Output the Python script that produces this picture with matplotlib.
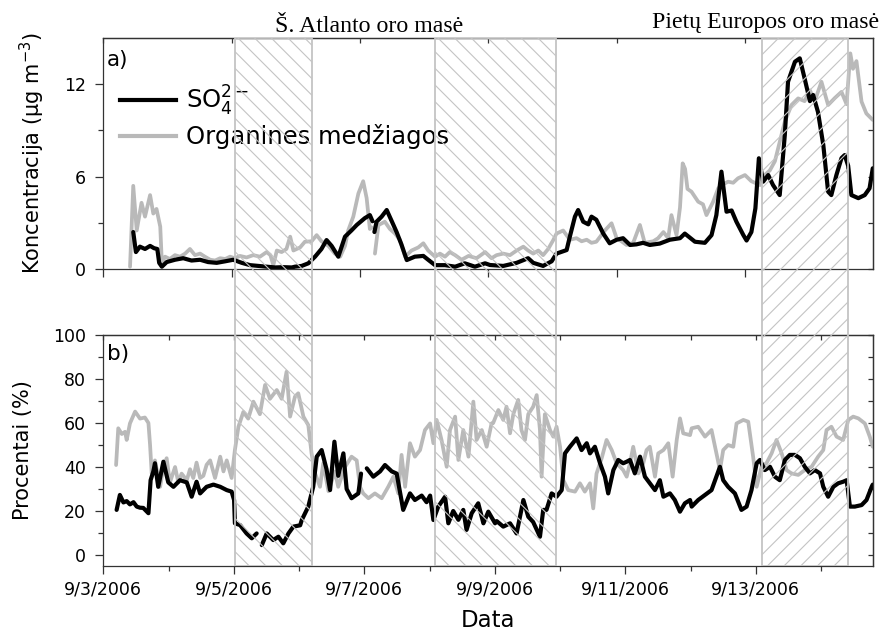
import numpy as np
import matplotlib
matplotlib.use("Agg")
import matplotlib.pyplot as plt
import matplotlib.dates as mdates
from matplotlib.lines import Line2D
from matplotlib.ticker import FixedLocator, NullFormatter, FuncFormatter

plt.rcParams['font.family'] = ['DejaVu Sans']
plt.rcParams['mathtext.default'] = 'regular'
plt.rcParams['hatch.linewidth'] = 0.8

START = np.datetime64('2006-09-03T00:00')
nan = np.nan

# ---- a) concentrations, hours since 2006-09-03 00:00 ----
so4_conc_h = [11.2, 12.2, 13.7, 15.6, 17.5, 19.0, 20.2, 20.9, 21.9, 23.7,
              26.8, 29.9, 33.0, 36.2, 39.2, 42.4, 45.6, 48.6, 51.8, 54.9,
              58.0, 61.1, 64.3, 67.3, 70.5, 71.7, 74.2, 76.7, 79.2, 81.6,
              83.5, 85.4, 87.9, 90.4, 92.8, 94.8, 97.8, 99.7, 100.7, 101.0,
              101.4, 102.2, 104.1, 106.0, 107.9, 109.7, 111.5, 113.5, 116.5, 119.7,
              121.5, 124.1, 127.8, 131.6, 135.2, 139.0, 142.8, 144.6, 149.6, 154.6,
              158.9, 160.8, 164.5, 167.7, 169.5, 173.3, 174.5, 176.4, 177.6, 179.5,
              181.4, 182.6, 184.4, 187.0, 189.4, 192.0, 194.4, 197.0, 199.4, 201.9,
              204.4, 208.1, 211.9, 215.7, 217.5, 221.3, 225.0, 227.5, 229.3, 231.2,
              233.1, 235.0, 236.8, 239.4, 240.6, 242.4, 243.9, 245.2, 246.8, 248.7,
              250.5, 253.0, 254.9, 256.1, 258.7, 260.5, 262.3, 264.3, 265.5, 267.3,
              269.3, 271.1, 272.3, 274.2, 276.1, 277.3, 278.6, 279.8, 282.4, 284.8,
              286.6, 287.8]
so4_conc = [2.4, 1.1, 1.45, 1.3, 1.5, 1.35, 1.3, 0.4, 0.15, 0.45,
            0.6, 0.7, 0.55, 0.6, 0.45, 0.4, 0.5, 0.6, 0.4, 0.25,
            0.2, 0.15, 0.1, 0.12, 0.1, 0.15, 0.2, 0.37, 0.8, 1.3,
            1.88, 1.5, 0.8, 2.1, 2.5, 2.86, 3.3, 3.5, 3.1, nan,
            2.4, 3.07, 3.4, 3.83, 3.1, 2.4, 1.6, 0.58, 0.8, 0.85,
            0.6, 0.25, 0.25, 0.15, 0.37, 0.15, 0.37, 0.26, 0.2, 0.4,
            0.7, 0.4, 0.2, 0.5, 1.0, 1.23, 2.1, 3.4, 3.83, 3.07,
            2.9, 3.4, 3.2, 2.3, 1.67, 1.9, 2.0, 1.56, 1.6, 1.7,
            1.56, 1.65, 1.9, 2.0, 2.3, 1.77, 1.7, 2.2, 3.5, 6.32,
            3.72, 3.8, 3.07, 2.2, 1.85, 2.4, 3.94, 7.19, 5.67, 6.1,
            5.45, 4.8, 8.7, 12.16, 13.46, 13.68, 12.38, 10.9, 11.3, 10.2,
            8.05, 5.02, 4.8, 6.1, 7.2, 7.4, 6.7, 4.8, 4.6, 4.8,
            5.24, 6.54]

org_conc_h = [10.0, 11.2, 12.5, 14.3, 15.6, 17.5, 18.7, 19.9, 21.3, 21.9,
              23.1, 24.9, 26.8, 28.7, 30.6, 32.4, 34.3, 36.2, 38.0, 40.0,
              41.8, 43.7, 45.6, 47.4, 49.2, 51.1, 53.6, 56.1, 58.6, 61.1,
              62.5, 63.6, 64.9, 66.7, 68.5, 69.9, 71.1, 73.6, 75.4, 77.9,
              79.8, 81.6, 84.2, 86.6, 88.6, 90.4, 91.6, 93.5, 95.4, 97.2,
              98.5, 99.7, 100.4, 101.0, 101.6, 102.9, 105.3, 107.2, 109.1, 110.9,
              112.9, 115.3, 117.8, 119.7, 121.5, 124.1, 125.9, 127.8, 129.6, 131.6,
              134.0, 136.6, 139.6, 142.8, 145.2, 147.1, 149.6, 152.1, 154.6, 157.1,
              158.9, 160.8, 162.7, 164.5, 166.4, 168.3, 169.5, 172.0, 174.5, 177.0,
              178.9, 180.8, 182.6, 184.4, 187.6, 190.1, 192.0, 193.8, 195.7, 198.2,
              200.7, 202.5, 205.7, 207.5, 209.5, 211.3, 212.5, 214.4, 215.7, 216.7,
              217.6, 218.5, 220.0, 222.5, 224.3, 225.6, 228.1, 230.0, 231.8, 233.7,
              235.6, 237.4, 240.0, 242.4, 245.6, 247.4, 249.3, 251.2, 252.4, 254.9,
              257.4, 259.9, 262.3, 264.3, 266.1, 268.6, 271.1, 273.6, 276.1, 278.0,
              279.4, 280.4, 281.7, 283.6, 285.4, 287.8]
org_conc = [0.15, 5.4, 2.5, 4.3, 3.4, 4.8, 3.6, 3.9, 2.75, 0.4,
            0.8, 0.65, 0.9, 0.8, 1.0, 1.3, 0.9, 1.0, 0.8, 0.6,
            0.55, 0.7, 0.65, 0.8, 0.7, 0.85, 0.75, 0.9, 0.8, 1.1,
            0.9, 0.25, 1.2, 1.1, 1.3, 2.1, 1.2, 1.4, 1.77, 1.8,
            2.2, 1.8, 1.5, 1.0, 0.8, 1.5, 2.5, 3.4, 4.9, 5.7,
            4.6, 2.6, 2.7, nan, 1.0, 2.85, 3.07, 2.6, 2.3, 1.9,
            0.8, 1.2, 1.4, 1.67, 1.2, 0.8, 1.0, 0.8, 1.1, 0.9,
            0.6, 0.85, 0.7, 1.1, 0.7, 0.9, 1.0, 0.9, 1.2, 1.45,
            1.2, 1.0, 1.2, 0.9, 1.3, 1.88, 2.3, 2.5, 1.9, 2.0,
            1.8, 1.9, 1.7, 1.77, 2.5, 2.97, 2.0, 1.8, 1.56, 1.7,
            2.86, 1.7, 1.8, 2.0, 2.4, 2.0, 3.5, 2.2, 4.0, 6.86,
            6.5, 5.2, 5.02, 4.37, 4.2, 3.5, 4.37, 5.24, 5.5, 5.67,
            5.6, 5.89, 6.1, 5.7, 5.45, 6.1, 6.4, 7.0, 7.84, 9.57,
            10.65, 11.08, 10.9, 11.6, 10.9, 12.16, 10.65, 11.1, 11.5, 10.7,
            14.0, 13.0, 13.5, 10.87, 10.1, 9.68]

# ---- b) shares of PM, hours since 2006-09-03 00:00 ----
org_pct_h = [4.7, 5.5, 6.8, 8.0, 8.6, 9.8, 11.7, 13.5, 15.3, 16.6,
             17.2, 17.8, 19.0, 20.9, 22.1, 23.3, 24.5, 26.4, 27.6, 28.8,
             30.7, 31.9, 33.1, 34.3, 35.6, 36.8, 38.0, 39.3, 41.1, 43.0,
             44.2, 45.4, 47.2, 48.4, 49.7, 51.5, 53.3, 55.2, 57.6, 59.5,
             61.3, 63.8, 65.6, 67.4, 68.7, 70.5, 71.7, 73.6, 75.4, 76.6,
             77.9, 79.7, 80.9, 82.8, 85.2, 86.4, 88.9, 91.3, 93.2, 94.4,
             95.6, 97.5, 99.9, 102.4, 104.8, 106.7, 108.5, 109.7, 111.0, 112.8,
             114.6, 116.5, 118.3, 120.2, 121.4, 122.6, 124.4, 126.3, 127.5, 129.4,
             130.6, 132.4, 134.3, 136.1, 137.3, 139.2, 141.0, 142.8, 143.4, 145.3,
             147.1, 148.3, 149.6, 150.8, 152.6, 153.8, 155.1, 156.3, 158.1, 159.4,
             160.6, 161.2, 162.4, 164.3, 165.5, 166.7, 168.0, 169.2, 171.0, 173.5,
             175.3, 177.1, 179.0, 180.2, 181.4, 183.3, 185.1, 187.0, 188.8, 191.2,
             192.5, 193.7, 194.9, 196.8, 198.6, 199.8, 201.0, 202.9, 204.1, 206.0,
             207.8, 209.4, 210.9, 212.1, 213.3, 215.8, 216.4, 218.8, 221.3, 223.7,
             225.5, 226.8, 228.0, 229.8, 231.7, 232.9, 235.4, 237.2, 239.0, 240.3,
             242.1, 243.9, 245.8, 247.6, 249.5, 251.3, 253.1, 255.6, 258.0, 260.5,
             262.9, 264.8, 266.0, 267.8, 269.7, 272.1, 274.0, 275.8, 277.7, 280.1,
             281.9, 283.0]
org_pct = [40.9, 57.6, 55, 56, 52.3, 59.8, 65.2, 62, 62.5, 60,
           50, 37.1, 43, 31, 40, 44, 33, 40, 33, 37,
           34, 39, 35, 42, 35, 36, 41, 43, 35, 44.7,
           38, 43, 35, 47.7, 58.3, 65, 62, 69.7, 64, 77.3,
           71, 75, 71, 83.3, 62.9, 72, 73.5, 62.9, 59, 46.2,
           37.1, 31, 41.7, 29, 38, 31, 40, 44.7, 43, 31,
           28, 25.8, 28, 25.8, 31, 35.6, 28, 45.5, 31, 50.8,
           44.7, 47.7, 56.8, 59.8, 50.8, 61.4, 52.3, 40.1, 56.8, 62.9,
           43.2, 56.8, 44.7, 69.7, 52.3, 56.8, 49.2, 59.8, 60, 65.9,
           61.4, 67.4, 55.3, 64, 70.5, 56.8, 52.3, 64, 67.4, 72.7,
           56.8, 35.6, 64, 56.8, 53.8, 58.3, 49.2, 34, 29.5, 28.8,
           32.6, 28.8, 32.6, 21.2, 37, 44, 52.3, 47.7, 41.7, 38.6,
           35.6, 41.7, 49.2, 37.1, 41.7, 47.7, 49.2, 35.6, 46.2, 47.7,
           50.8, 35.6, 52.3, 62.1, 55.3, 54.5, 57.6, 58.3, 53.8, 56.8,
           46.2, 38.6, 47.7, 50, 49.2, 59.8, 61.4, 60.6, 44.7, 31,
           40.1, 41.7, 46.2, 52.3, 46.2, 38.6, 37.1, 36.4, 38.6, 40.1,
           44.7, 47.7, 56.8, 58.3, 53.8, 52.3, 61.4, 62.9, 62.1, 59.8,
           53.8, 49.2]

so4_pct_h = [4.9, 6.1, 7.4, 8.6, 9.8, 11.1, 12.3, 13.5, 14.7, 16.6,
             17.4, 18.4, 19.0, 20.2, 22.1, 23.9, 25.8, 28.2, 30.7, 32.5,
             34.3, 35.6, 38.0, 40.5, 43.0, 45.4, 47.2, 48.1, 48.4, 50.3,
             52.7, 54.6, 56.4, 57.3, 58.3, 60.1, 62.5, 64.4, 66.2, 68.1,
             69.9, 72.4, 73.0, 75.4, 77.2, 78.5, 80.3, 82.1, 83.4, 85.0,
             86.4, 88.3, 89.5, 91.3, 93.8, 94.8, 95.8, 96.9, 99.3, 101.8,
             103.6, 106.1, 107.9, 110.3, 112.8, 114.6, 117.1, 118.9, 120.2, 121.4,
             123.2, 125.7, 126.9, 128.7, 130.6, 132.4, 133.6, 135.5, 137.9, 139.8,
             141.6, 144.1, 144.7, 147.1, 149.6, 152.0, 154.5, 156.3, 158.1, 160.6,
             161.8, 163.0, 164.9, 166.7, 168.6, 169.8, 171.6, 174.1, 175.9, 177.8,
             179.0, 180.8, 182.7, 184.5, 185.7, 187.6, 189.4, 191.2, 192.5, 193.7,
             195.5, 197.4, 199.2, 201.0, 202.9, 204.7, 206.0, 208.4, 210.2, 212.1,
             213.9, 215.8, 216.4, 218.8, 221.3, 223.7, 225.5, 226.8, 228.0, 229.8,
             232.3, 234.7, 236.6, 238.4, 240.3, 241.5, 243.3, 245.2, 247.0, 248.8,
             250.7, 252.5, 254.4, 256.2, 258.0, 259.9, 261.7, 263.6, 264.8, 266.6,
             268.5, 270.3, 272.1, 273.4, 274.6, 276.4, 278.9, 280.7, 282.6, 283.0]
so4_pct = [20.5, 27.3, 23.9, 24.5, 23, 24, 22, 21.5, 21.4, 19,
           34, 38, 41.7, 31, 42.4, 33, 31, 34, 33, 26.5,
           33.3, 28, 31, 32, 31, 29.5, 28.8, 25, 14.4, 13.6,
           9.8, 7.6, 9.8, nan, 4.5, 9.8, 6.8, 8.3, 5.3, 9.8,
           12.9, 13.5, 15.9, 22, 31, 44.7, 47.7, 39, 29.5, 51.5,
           36, 46.2, 30, 25.8, 28, 37, nan, 39.4, 35.6, 38,
           40.9, 38, 37, 20.5, 28, 25, 27, 24, 27, 15.9,
           22, 26.5, 14.4, 20, 16, 20.5, 11.4, 19, 23.5, 14.4,
           19.7, 14.4, 15.4, 12.9, 14.4, 9.8, 25, 17.4, 15, 8.3,
           20.5, 20.5, 28, 26.5, 29.5, 46.2, 49.2, 53, 47.7, 50.8,
           46.2, 49.2, 41.7, 35.6, 28, 38.6, 43.2, 41.7, 42.4, 43.2,
           37.1, 44.7, 35.6, 32.6, 29.5, 34, 26.5, 28, 25, 19.7,
           23.5, 25, 22, 25, 27.3, 29.5, 35.6, 40.1, 34, 31,
           28, 20.5, 22, 29.5, 41.7, 43.2, 38.6, 40.1, 35.6, 34,
           43.2, 45.5, 45.5, 44, 40.1, 37.1, 38.6, 37.1, 31, 26.5,
           31, 32.6, 33.3, 34, 22, 22, 22.7, 25, 31, 32]

# air-mass episodes (start hour, end hour, hatch)
episodes = [(48.4, 76.9, '\\\\'), (122.0, 166.4, '\\\\'), (242.4, 274.0, '//')]
episode_labels = ['Š. Atlanto oro masė', 'Pietų Europos oro masė']

legend_labels = ['SO$_4^{2-}$', 'Organines medžiagos']
tick_dates = ['2006-09-03', '2006-09-05', '2006-09-07', '2006-09-09',
              '2006-09-11', '2006-09-13']


def to_num(hours):
    h = np.asarray(hours, dtype=float)
    return mdates.date2num(START + np.round(h * 60).astype('timedelta64[m]'))


BLACK = '#000000'
GRAY = '#b9b9b9'
SPINE = '#333333'
HATCH = '#c4c4c4'

fig = plt.figure(figsize=(8.83, 6.34), dpi=100)
W_PX, H_PX = 883.0, 634.0
L = 103.3 / W_PX
W = 770.0 / W_PX
ax1 = fig.add_axes([L, (H_PX - 269) / H_PX, W, 231 / H_PX])
ax2 = fig.add_axes([L, (H_PX - 566) / H_PX, W, 231 / H_PX])

major_x = mdates.date2num(np.array(tick_dates, dtype='datetime64[m]'))
day_x = mdates.date2num(np.arange(np.datetime64('2006-09-03'),
                                  np.datetime64('2006-09-16'),
                                  np.timedelta64(1, 'D')).astype('datetime64[m]'))
minor_x = [d for d in day_x if d not in major_x]

# panel a
ax1.plot(to_num(org_conc_h), org_conc, color=GRAY, lw=2.7,
         solid_joinstyle='round', solid_capstyle='round')
ax1.plot(to_num(so4_conc_h), so4_conc, color=BLACK, lw=3.0,
         solid_joinstyle='round', solid_capstyle='round')
ax1.set_xlim(to_num(0), to_num(288))
ax1.set_ylim(0, 15)
ax1.set_yticks([0, 6, 12])
ax1.yaxis.set_minor_locator(FixedLocator([3, 9]))
ax1.set_xticks(major_x)
ax1.xaxis.set_major_formatter(NullFormatter())

# panel b
ax2.plot(to_num(org_pct_h), org_pct, color=GRAY, lw=2.7,
         solid_joinstyle='round', solid_capstyle='round')
ax2.plot(to_num(so4_pct_h), so4_pct, color=BLACK, lw=3.0,
         solid_joinstyle='round', solid_capstyle='round')
ax2.set_xlim(to_num(0), to_num(283.2))
ax2.set_ylim(-5, 100)
ax2.set_yticks([0, 20, 40, 60, 80, 100])
ax2.yaxis.set_minor_locator(FixedLocator([10, 30, 50, 70, 90]))
ax2.set_xticks(major_x)
ax2.xaxis.set_minor_locator(FixedLocator(minor_x))
ax2.xaxis.set_major_formatter(FuncFormatter(
    lambda v, p: (lambda d: f"{d.month}/{d.day}/{d.year}")(mdates.num2date(v))))

for ax in (ax1, ax2):
    for s in ax.spines.values():
        s.set_color(SPINE)
        s.set_linewidth(0.9)
    ax.tick_params(which='major', direction='out', length=5.8, width=0.9,
                   color=SPINE, labelsize=12.5, pad=5)
    ax.tick_params(axis='y', which='major', pad=6.5)
    ax.tick_params(which='minor', direction='out', length=3.4, width=0.9,
                   color=SPINE)

# inward ticks on the top and right edges
for ax, top_ticks, yt, ymin in ((ax1, list(major_x), [0, 6, 12], [3, 9]),
                                (ax2, list(day_x), [0, 20, 40, 60, 80, 100],
                                 [10, 30, 50, 70, 90])):
    sx = ax.secondary_xaxis('top')
    sx.set_xticks(top_ticks)
    sx.xaxis.set_major_formatter(NullFormatter())
    sx.tick_params(direction='in', length=3.6, width=0.9, color=SPINE)
    sx.spines['top'].set_color(SPINE)
    sx.spines['top'].set_linewidth(0.9)
    sy = ax.secondary_yaxis('right')
    sy.set_yticks(yt)
    sy.yaxis.set_minor_locator(FixedLocator(ymin))
    sy.yaxis.set_major_formatter(NullFormatter())
    sy.tick_params(which='both', direction='in', length=3.6, width=0.9,
                   color=SPINE)
    sy.spines['right'].set_color(SPINE)
    sy.spines['right'].set_linewidth(0.9)

ax1.set_ylabel('Koncentracija (μg m$^{-3}$)', fontsize=15)
ax1.yaxis.set_label_coords(-0.073, 0.5)
ax2.set_ylabel('Procentai (%)', fontsize=15)
ax2.yaxis.set_label_coords(-0.091, 0.5)
fig.text(488 / W_PX, 2 / H_PX, 'Data', fontsize=16.5, ha='center',
         va='bottom')

ax1.text(0.005, 0.95, 'a)', transform=ax1.transAxes, fontsize=15.5,
         ha='left', va='top')
ax2.text(0.005, 0.96, 'b)', transform=ax2.transAxes, fontsize=15.5,
         ha='left', va='top')

handles = [Line2D([], [], color=BLACK, lw=3.0),
           Line2D([], [], color=GRAY, lw=3.0)]
ax1.legend(handles, legend_labels, loc='upper left',
           bbox_to_anchor=(0.0217, 0.80), frameon=False, fontsize=17.5,
           handlelength=2.3, handletextpad=0.4, labelspacing=0.25,
           borderpad=0, borderaxespad=0)

# hatched episodes running through both panels
over = fig.add_axes([L, (H_PX - 566) / H_PX, W, (566 - 38) / H_PX])
over.set_zorder(10)
over.set_xlim(ax2.get_xlim())
over.set_ylim(0, 1)
over.axis('off')
for a, b, pat in episodes:
    over.axvspan(to_num(a), to_num(b), ymin=0, ymax=1, facecolor='none',
                 edgecolor=HATCH, lw=1.3, hatch=pat)

fig.text(369 / W_PX, (H_PX - 32) / H_PX, episode_labels[0],
         family='Liberation Serif', fontsize=17.2, ha='center', va='baseline')
fig.text(766 / W_PX, (H_PX - 28) / H_PX, episode_labels[1],
         family='Liberation Serif', fontsize=17.2, ha='center', va='baseline')

fig.savefig('out.png', dpi=100)
